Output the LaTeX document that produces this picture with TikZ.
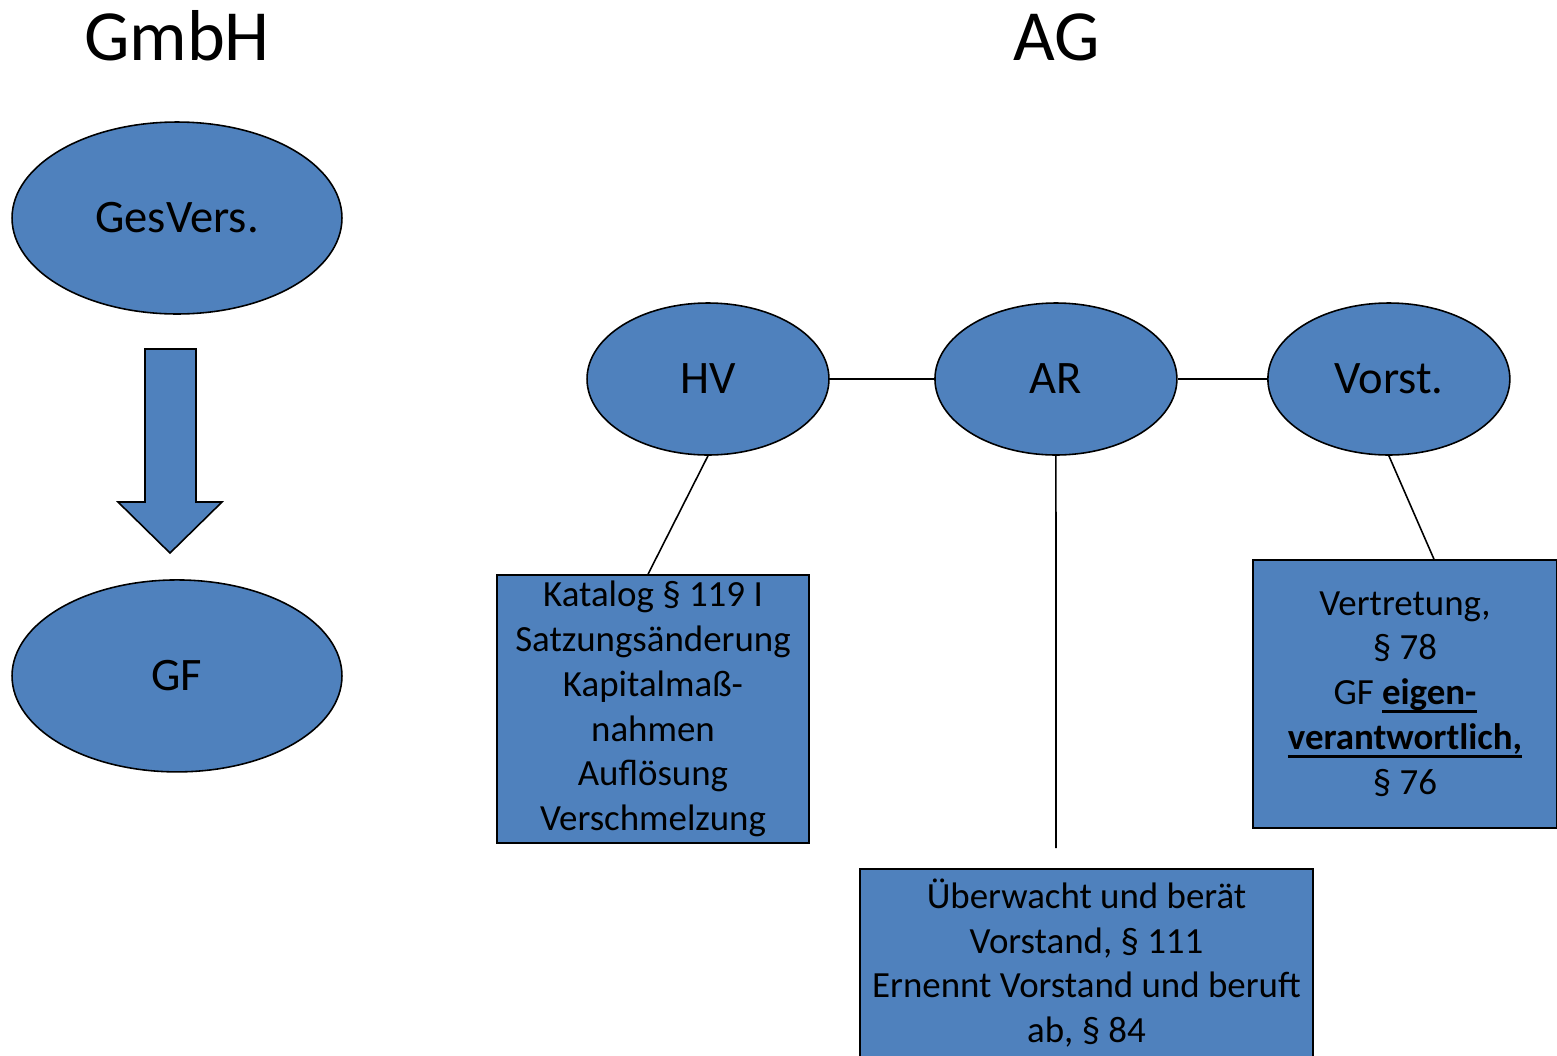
\documentclass[tikz,border=0pt]{standalone}
\usepackage{fontspec}
\setmainfont{Carlito}
\usetikzlibrary{shapes.geometric}
\definecolor{ablau}{RGB}{79,129,189}
\newcommand{\unterstrich}[1]{\setbox0\hbox{#1}\rlap{\rule[-4.6pt]{\wd0}{1.6pt}}\box0}

\begin{document}
\begin{tikzpicture}[x=0.02cm,y=-0.02cm]
\tikzstyle{titel} = [font=\fontsize{41}{49}\selectfont, anchor=base]
\tikzstyle{organ} = [ellipse, draw=black, line width=0.9pt, fill=ablau, inner sep=0pt, font=\fontsize{26.5}{32}\selectfont]
\tikzstyle{aufgabe} = [rectangle, draw=black, line width=0.9pt, fill=ablau, align=center, inner sep=0pt, font=\fontsize{21}{25.5}\selectfont]
\tikzstyle{linie} = [line width=0.9pt]
\useasboundingbox (0,0) rectangle (1557,1055);
\clip (0,0) rectangle (1557,1055);
% GmbH
\node (gmbh) [titel] at (177,60) {GmbH};
\node (gesvers) [organ, minimum width=6.6cm, minimum height=3.84cm] at (177,218) {GesVers.};
\node (gf) [organ, minimum width=6.6cm, minimum height=3.84cm, below of=gesvers, node distance=9.16cm] {GF};
\draw [linie, fill=ablau] (145,349) -- (196,349) -- (196,502) -- (222,502) -- (170,553) -- (118,502) -- (145,502) -- cycle;
% AG
\node (ag) [titel] at (1057,60) {AG};
\node (hv) [organ, minimum width=4.84cm, minimum height=3.04cm] at (708,379) {HV};
\node (ar) [organ, minimum width=4.84cm, minimum height=3.04cm, right of=hv, node distance=6.96cm] {AR};
\node (vorst) [organ, minimum width=4.84cm, minimum height=3.04cm, right of=ar, node distance=6.66cm] {Vorst.};
\node (katalog) [aufgabe, minimum width=6.24cm, minimum height=5.36cm] at (653,709) {Katalog § 119 I\\Satzungsänderung\\Kapitalmaß-\\nahmen\\Auflösung\\Verschmelzung};
\node (vertretung) [aufgabe, minimum width=6.08cm, minimum height=5.36cm] at (1405,694) {Vertretung,\\§ 78\\GF \textbf{\unterstrich{eigen-}}\\\textbf{\unterstrich{verantwortlich,}}\\§ 76};
\node (ueberwacht) [aufgabe, anchor=north, minimum width=9.06cm, inner ysep=0.2cm, text depth=1.2cm] at (1086.5,868) {Überwacht und berät\\Vorstand, § 111\\Ernennt Vorstand und beruft\\ab, § 84};
\coordinate (arende) at (1056,848);
\draw [linie] (hv.east) -- (ar.west);
\draw [linie] (ar.east) -- (vorst.west);
\draw [linie] (hv.south) -- ([xshift=-0.1cm]katalog.north);
\draw [linie] (ar.south) -- (arende);
\draw [linie] (vorst.south) -- ([xshift=0.58cm]vertretung.north);
\end{tikzpicture}
\end{document}
